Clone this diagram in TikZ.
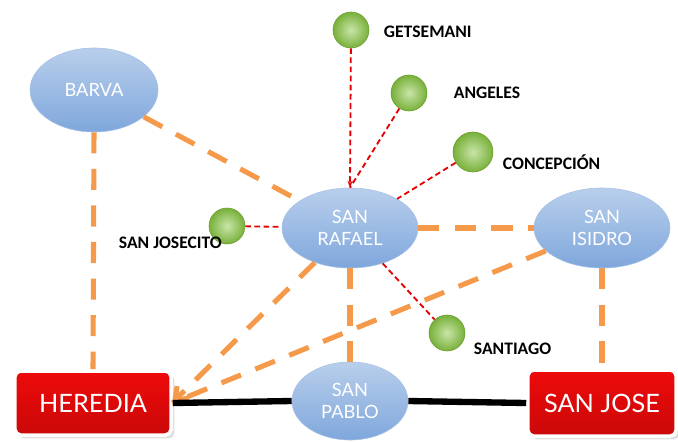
\documentclass[tikz,border=0pt]{standalone}
\usepackage{fontspec}
\setmainfont{Carlito}
\newfontfamily\gillfont{Lato}
\usetikzlibrary{arrows.meta, shapes.geometric, shadows}

\definecolor{roadorange}{HTML}{F59A4A}
\definecolor{townblue}{HTML}{7FA7DC}
\definecolor{cityred}{HTML}{EE0A0A}
\definecolor{barriogreen}{HTML}{86C440}

\begin{document}
\begin{tikzpicture}[x=0.025cm, y=-0.025cm,
    town/.style={ellipse, draw=townblue!70!white, top color=townblue!55!white, bottom color=townblue,
        minimum width=3.4cm, minimum height=2.0cm, align=center, text=white,
        font=\gillfont\fontsize{13}{16}\selectfont},
    city/.style={rectangle, rounded corners=4pt, draw=white, line width=2.5pt, top color=cityred,
        bottom color=cityred!85!black, drop shadow={opacity=0.25}, text=white,
        font=\gillfont\fontsize{18}{22}\selectfont},
    barrio/.style={circle, minimum size=0.9cm, inner sep=0pt, draw=barriogreen!80!black, thin,
        inner color=barriogreen!45!white, outer color=barriogreen!90!black},
    barrioname/.style={anchor=west, font=\bfseries\fontsize{12.5}{15}\selectfont},
    road/.style={roadorange, line width=3.6pt, dash pattern=on 15pt off 11pt},
    lane/.style={red!90!black, line width=1.3pt, dash pattern=on 4pt off 2.5pt},
    highway/.style={black, line width=4.5pt}]
    \useasboundingbox (0,0) rectangle (678,442);

    \coordinate (hx) at (172,403);

    \node[town, minimum width=3.2cm, minimum height=2.1cm] (barva) at (94,90) {BARVA};
    \node[town] (rafael) at (350,228) {SAN\\RAFAEL};
    \node[town] (isidro) at (602,228) {SAN\\ISIDRO};
    \node[town, minimum width=2.9cm, minimum height=1.95cm] (pablo) at (350,401) {SAN\\PABLO};
    \node[city, minimum width=3.9cm, minimum height=1.6cm] (heredia) at (93,403) {HEREDIA};
    \node[city, minimum width=3.7cm, minimum height=1.65cm] (sanjose) at (602,403) {SAN JOSE};

    \node[barrio] (getsemani) at (351,30) {};
    \node[barrio] (angeles) at (409,93) {};
    \node[barrio, minimum size=1.0cm] (concepcion) at (473,152) {};
    \node[barrio] (josecito) at (227,226) {};
    \node[barrio] (santiago) at (447,333) {};

    \node[barrioname] (lgetsemani) at (379,32) {GETSEMANI};
    \node[barrioname] (langeles) at (449,93) {ANGELES};
    \node[barrioname] (lconcepcion) at (498,162) {CONCEPCIÓN};
    \node[barrioname] (ljosecito) at (114,243) {SAN JOSECITO};
    \node[barrioname] (lsantiago) at (469,349) {SANTIAGO};

    \draw[road] (barva.south) -- (heredia.north);
    \draw[road] (barva) -- (rafael);
    \draw[road] (rafael) -- (isidro);
    \draw[road] (rafael.south) -- (pablo.north);
    \draw[road] (isidro.south) -- (sanjose.north);
    \draw[road] (isidro) -- (hx);
    \draw[road, -{Straight Barb[length=8pt, width=12pt]}] (rafael) -- (hx);

    \draw[highway] (heredia.east) -- (pablo.west);
    \draw[highway] (pablo.east) -- (sanjose.west);

    \draw[lane, -{Stealth[length=5pt]}] (getsemani) -- (rafael.north);
    \draw[lane] (angeles) -- (rafael.north);
    \draw[lane] (concepcion) -- (rafael);
    \draw[lane] (josecito) -- (rafael);
    \draw[lane] (rafael) -- (santiago);
\end{tikzpicture}
\end{document}
